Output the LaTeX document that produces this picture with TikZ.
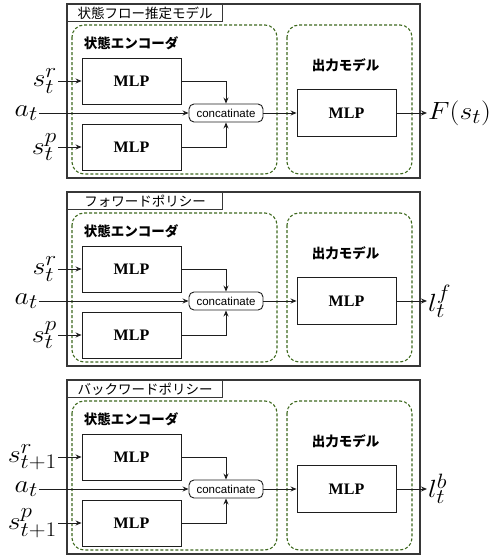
\documentclass[tikz,border=0pt]{standalone}
\usepackage{fontspec}
\newfontfamily\jp{Noto Sans CJK JP}
\newfontfamily\lsans{Liberation Sans}
\newfontfamily\lserif{Liberation Serif}
\usetikzlibrary{arrows.meta}
\definecolor{dgreen}{RGB}{62,105,30}
\definecolor{lgray}{RGB}{55,55,55}
\definecolor{lnc}{RGB}{30,30,30}

\tikzset{
 frame/.style={draw=lgray, line width=1.1pt},
 titlebox/.style={draw=lgray, line width=1.1pt, minimum width=155pt, minimum height=17pt, inner sep=0pt, font=\jp\fontsize{13.5}{14}\selectfont},
 group/.style={draw=dgreen, dash pattern=on 3pt off 2pt, line width=1.1pt, rounded corners=12pt},
 mlp/.style={draw=lnc, line width=0.9pt, minimum width=99pt, minimum height=46pt, inner sep=0pt, font=\lserif\bfseries\fontsize{16}{16}\selectfont},
 concat/.style={draw=lnc, line width=0.9pt, rounded corners=5pt, minimum width=74pt, minimum height=18pt, inner sep=0pt, font=\lsans\fontsize{11.5}{12}\selectfont},
 grplabel/.style={font=\jp\bfseries\fontsize{13.5}{14}\selectfont, inner sep=0pt},
 mathlbl/.style={inner sep=1pt, font=\fontsize{28}{32}\selectfont},
 arr/.style={draw=lnc, line width=0.9pt, -{Stealth[length=6pt,width=5pt]}},
}

\newcommand\mypanel[6]{%
 \begin{scope}[yshift=-#2pt]
  \draw[frame] (67,0) rectangle (420,174);
  \node[titlebox, anchor=north west] (#1title) at (67,0) {#3};
  \draw[group] (72,21) rectangle (277,170);
  \draw[group] (287,21) rectangle (412,170);
  \node[grplabel] (#1encl) at (131,39) {状態エンコーダ};
  \node[grplabel] (#1outl) at (345.5,61) {出力モデル};
  \node[mlp] (#1m1) at (131.5,77) {MLP};
  \node[mlp] (#1m2) at (131.5,143) {MLP};
  \node[concat] (#1cat) at (226,109) {concatinate};
  \node[mlp, minimum height=47pt] (#1mo) at (346.5,109) {MLP};
  \node[mathlbl, anchor=east] (#1lr) at (58,77) {\scalebox{1.12}[1]{#4}};
  \node[mathlbl, anchor=east] (#1la) at (39,109) {\scalebox{1.12}[1]{$a_t$}};
  \node[mathlbl, anchor=east] (#1lp) at (58,143) {\scalebox{1.12}[1]{#5}};
  \node[mathlbl, anchor=west] (#1lo) at (427,109) {\scalebox{1.12}[1]{#6}};
  \draw[arr] (#1lr.east) -- (#1m1.west);
  \draw[arr] (#1lp.east) -- (#1m2.west);
  \draw[arr] (#1la.east) -- (#1cat.west);
  \draw[arr] (#1m1.east) -| (#1cat.north);
  \draw[arr] (#1m2.east) -| (#1cat.south);
  \draw[arr] (#1cat.east) -- (#1mo.west);
  \draw[arr] (#1mo.east) -- (#1lo.west);
 \end{scope}%
}

\begin{document}
\begin{tikzpicture}[x=1pt, y=-1pt]
 \useasboundingbox (0,0) rectangle (502,557);
 \mypanel{a}{4}{状態フロー推定モデル}{$s^r_t$}{$s^p_t$}{$F(s_t)$}
 \mypanel{b}{192}{フォワードポリシー}{$s^r_t$}{$s^p_t$}{$l^f_t$}
 \mypanel{c}{380}{バックワードポリシー}{$s^r_{t+1}$}{$s^p_{t+1}$}{$l^b_t$}
\end{tikzpicture}
\end{document}
